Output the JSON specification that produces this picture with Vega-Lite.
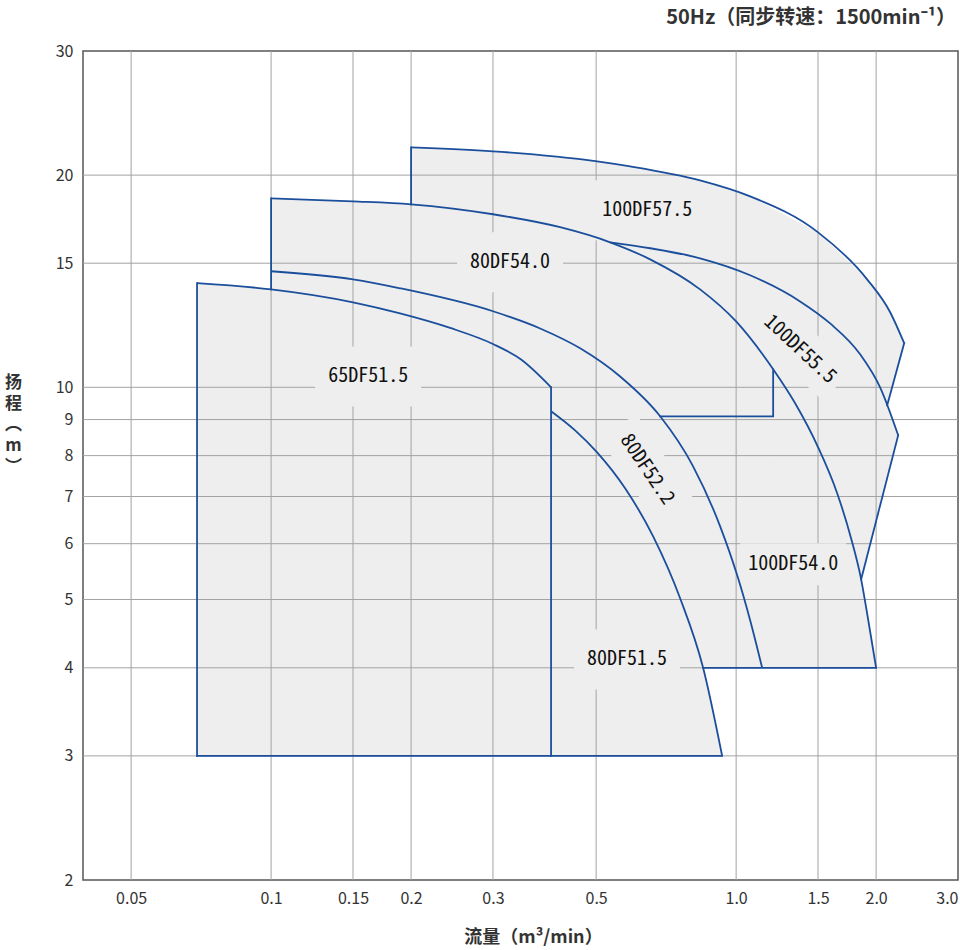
{
  "$schema": "https://vega.github.io/schema/vega-lite/v6.json",
  "width": 875,
  "height": 829,
  "autosize": "none",
  "padding": {"left": 83, "top": 51, "right": 2, "bottom": 70},
  "background": "white",
  "title": {"text": "50Hz（同步转速：1500min⁻¹）", "anchor": "end", "frame": "group", "fontSize": 20, "fontWeight": "bold", "font": "Noto Sans CJK SC", "color": "#333333", "offset": 15, "dx": -2},
  "config": {
    "view": {"stroke": "#555555", "strokeWidth": 1.5},
    "axis": {"grid": false, "ticks": false, "domain": false, "labelPadding": 10, "labelFontSize": 16, "labelFont": "Noto Sans CJK SC", "labelColor": "#333333", "labelOverlap": false, "titleFont": "Noto Sans CJK SC", "titleFontSize": 18, "titleFontWeight": "bold", "titleColor": "#333333"},
    "axisX": {"labelFlush": true},
    "axisY": {"labelFlush": false}
  },
  "datasets": {
    "fills": [
      {"shape": "A", "i": 0, "q": 0.0693, "h": 3},
      {"shape": "A", "i": 1, "q": 0.0693, "h": 14.05},
      {"shape": "A", "i": 2, "q": 0.1, "h": 13.77},
      {"shape": "A", "i": 3, "q": 0.15, "h": 13.2},
      {"shape": "A", "i": 4, "q": 0.1894, "h": 12.73},
      {"shape": "A", "i": 5, "q": 0.2427, "h": 12.14},
      {"shape": "A", "i": 6, "q": 0.3, "h": 11.52},
      {"shape": "A", "i": 7, "q": 0.3448, "h": 10.95},
      {"shape": "A", "i": 8, "q": 0.4, "h": 10.0},
      {"shape": "A", "i": 9, "q": 0.4, "h": 3},
      {"shape": "B", "i": 0, "q": 0.4, "h": 3},
      {"shape": "B", "i": 1, "q": 0.4, "h": 9.25},
      {"shape": "B", "i": 2, "q": 0.4505, "h": 8.689},
      {"shape": "B", "i": 3, "q": 0.5024, "h": 8.087},
      {"shape": "B", "i": 4, "q": 0.5771, "h": 7.191},
      {"shape": "B", "i": 5, "q": 0.6631, "h": 6.144},
      {"shape": "B", "i": 6, "q": 0.7578, "h": 5.02},
      {"shape": "B", "i": 7, "q": 0.8492, "h": 4.0},
      {"shape": "B", "i": 8, "q": 0.933, "h": 3},
      {"shape": "C", "i": 0, "q": 0.1, "h": 4},
      {"shape": "C", "i": 1, "q": 0.1, "h": 14.61},
      {"shape": "C", "i": 2, "q": 0.15, "h": 14.23},
      {"shape": "C", "i": 3, "q": 0.1894, "h": 13.82},
      {"shape": "C", "i": 4, "q": 0.3, "h": 12.82},
      {"shape": "C", "i": 5, "q": 0.3789, "h": 12.12},
      {"shape": "C", "i": 6, "q": 0.4619, "h": 11.36},
      {"shape": "C", "i": 7, "q": 0.5631, "h": 10.36},
      {"shape": "C", "i": 8, "q": 0.6865, "h": 9.097},
      {"shape": "C", "i": 9, "q": 0.8081, "h": 7.725},
      {"shape": "C", "i": 10, "q": 0.9239, "h": 6.35},
      {"shape": "C", "i": 11, "q": 1.01, "h": 5.358},
      {"shape": "C", "i": 12, "q": 1.0718, "h": 4.672},
      {"shape": "C", "i": 13, "q": 1.1375, "h": 4.0},
      {"shape": "E", "i": 0, "q": 0.1, "h": 4},
      {"shape": "E", "i": 1, "q": 0.1, "h": 18.54},
      {"shape": "E", "i": 2, "q": 0.15, "h": 18.36},
      {"shape": "E", "i": 3, "q": 0.2, "h": 18.18},
      {"shape": "E", "i": 4, "q": 0.3, "h": 17.6},
      {"shape": "E", "i": 5, "q": 0.4183, "h": 16.87},
      {"shape": "E", "i": 6, "q": 0.5359, "h": 16.06},
      {"shape": "E", "i": 7, "q": 0.6532, "h": 15.19},
      {"shape": "E", "i": 8, "q": 0.8366, "h": 13.77},
      {"shape": "E", "i": 9, "q": 1.0, "h": 12.4},
      {"shape": "E", "i": 10, "q": 1.2012, "h": 10.606},
      {"shape": "E", "i": 11, "q": 1.3393, "h": 9.491},
      {"shape": "E", "i": 12, "q": 1.5007, "h": 8.221},
      {"shape": "E", "i": 13, "q": 1.6491, "h": 7.075},
      {"shape": "E", "i": 14, "q": 1.7672, "h": 6.104},
      {"shape": "E", "i": 15, "q": 1.8571, "h": 5.341},
      {"shape": "E", "i": 16, "q": 1.9222, "h": 4.688},
      {"shape": "E", "i": 17, "q": 2.0, "h": 4.0},
      {"shape": "F", "i": 0, "q": 0.5359, "h": 16.06},
      {"shape": "F", "i": 1, "q": 0.6532, "h": 15.75},
      {"shape": "F", "i": 2, "q": 0.8366, "h": 15.24},
      {"shape": "F", "i": 3, "q": 1.0718, "h": 14.42},
      {"shape": "F", "i": 4, "q": 1.3725, "h": 13.24},
      {"shape": "F", "i": 5, "q": 1.593, "h": 12.32},
      {"shape": "F", "i": 6, "q": 1.8479, "h": 11.14},
      {"shape": "F", "i": 7, "q": 2.0398, "h": 10.0},
      {"shape": "F", "i": 8, "q": 2.2309, "h": 8.549},
      {"shape": "F", "i": 9, "q": 1.8571, "h": 5.341},
      {"shape": "G", "i": 0, "q": 0.2, "h": 18.18},
      {"shape": "G", "i": 1, "q": 0.2, "h": 21.9},
      {"shape": "G", "i": 2, "q": 0.3, "h": 21.62},
      {"shape": "G", "i": 3, "q": 0.5024, "h": 20.92},
      {"shape": "G", "i": 4, "q": 0.5916, "h": 20.58},
      {"shape": "G", "i": 5, "q": 0.8366, "h": 19.66},
      {"shape": "G", "i": 6, "q": 1.0718, "h": 18.66},
      {"shape": "G", "i": 7, "q": 1.5007, "h": 16.59},
      {"shape": "G", "i": 8, "q": 1.9127, "h": 14.23},
      {"shape": "G", "i": 9, "q": 2.1441, "h": 12.78},
      {"shape": "G", "i": 10, "q": 2.2982, "h": 11.55},
      {"shape": "G", "i": 11, "q": 2.1125, "h": 9.43}
    ],
    "curves": [
      {"curve": "65DF51.5", "q": 0.0693, "h": 14.05},
      {"curve": "65DF51.5", "q": 0.1, "h": 13.77},
      {"curve": "65DF51.5", "q": 0.15, "h": 13.2},
      {"curve": "65DF51.5", "q": 0.1894, "h": 12.73},
      {"curve": "65DF51.5", "q": 0.2427, "h": 12.14},
      {"curve": "65DF51.5", "q": 0.3, "h": 11.52},
      {"curve": "65DF51.5", "q": 0.3448, "h": 10.95},
      {"curve": "65DF51.5", "q": 0.4, "h": 10.0},
      {"curve": "80DF51.5", "q": 0.4, "h": 9.25},
      {"curve": "80DF51.5", "q": 0.4505, "h": 8.689},
      {"curve": "80DF51.5", "q": 0.5024, "h": 8.087},
      {"curve": "80DF51.5", "q": 0.5771, "h": 7.191},
      {"curve": "80DF51.5", "q": 0.6631, "h": 6.144},
      {"curve": "80DF51.5", "q": 0.7578, "h": 5.02},
      {"curve": "80DF51.5", "q": 0.8492, "h": 4.0},
      {"curve": "80DF51.5", "q": 0.933, "h": 3},
      {"curve": "80DF52.2", "q": 0.1, "h": 14.61},
      {"curve": "80DF52.2", "q": 0.15, "h": 14.23},
      {"curve": "80DF52.2", "q": 0.1894, "h": 13.82},
      {"curve": "80DF52.2", "q": 0.3, "h": 12.82},
      {"curve": "80DF52.2", "q": 0.3789, "h": 12.12},
      {"curve": "80DF52.2", "q": 0.4619, "h": 11.36},
      {"curve": "80DF52.2", "q": 0.5631, "h": 10.36},
      {"curve": "80DF52.2", "q": 0.6865, "h": 9.097},
      {"curve": "80DF52.2", "q": 0.8081, "h": 7.725},
      {"curve": "80DF52.2", "q": 0.9239, "h": 6.35},
      {"curve": "80DF52.2", "q": 1.01, "h": 5.358},
      {"curve": "80DF52.2", "q": 1.0718, "h": 4.672},
      {"curve": "80DF52.2", "q": 1.1375, "h": 4.0},
      {"curve": "100DF54.0", "q": 0.1, "h": 18.54},
      {"curve": "100DF54.0", "q": 0.15, "h": 18.36},
      {"curve": "100DF54.0", "q": 0.2, "h": 18.18},
      {"curve": "100DF54.0", "q": 0.3, "h": 17.6},
      {"curve": "100DF54.0", "q": 0.4183, "h": 16.87},
      {"curve": "100DF54.0", "q": 0.5359, "h": 16.06},
      {"curve": "100DF54.0", "q": 0.6532, "h": 15.19},
      {"curve": "100DF54.0", "q": 0.8366, "h": 13.77},
      {"curve": "100DF54.0", "q": 1.0, "h": 12.4},
      {"curve": "100DF54.0", "q": 1.2012, "h": 10.606},
      {"curve": "100DF54.0", "q": 1.3393, "h": 9.491},
      {"curve": "100DF54.0", "q": 1.5007, "h": 8.221},
      {"curve": "100DF54.0", "q": 1.6491, "h": 7.075},
      {"curve": "100DF54.0", "q": 1.7672, "h": 6.104},
      {"curve": "100DF54.0", "q": 1.8571, "h": 5.341},
      {"curve": "100DF54.0", "q": 1.9222, "h": 4.688},
      {"curve": "100DF54.0", "q": 2.0, "h": 4.0},
      {"curve": "100DF55.5", "q": 0.5359, "h": 16.06},
      {"curve": "100DF55.5", "q": 0.6532, "h": 15.75},
      {"curve": "100DF55.5", "q": 0.8366, "h": 15.24},
      {"curve": "100DF55.5", "q": 1.0718, "h": 14.42},
      {"curve": "100DF55.5", "q": 1.3725, "h": 13.24},
      {"curve": "100DF55.5", "q": 1.593, "h": 12.32},
      {"curve": "100DF55.5", "q": 1.8479, "h": 11.14},
      {"curve": "100DF55.5", "q": 2.0398, "h": 10.0},
      {"curve": "100DF55.5", "q": 2.2309, "h": 8.549},
      {"curve": "100DF57.5", "q": 0.2, "h": 21.9},
      {"curve": "100DF57.5", "q": 0.3, "h": 21.62},
      {"curve": "100DF57.5", "q": 0.5024, "h": 20.92},
      {"curve": "100DF57.5", "q": 0.5916, "h": 20.58},
      {"curve": "100DF57.5", "q": 0.8366, "h": 19.66},
      {"curve": "100DF57.5", "q": 1.0718, "h": 18.66},
      {"curve": "100DF57.5", "q": 1.5007, "h": 16.59},
      {"curve": "100DF57.5", "q": 1.9127, "h": 14.23},
      {"curve": "100DF57.5", "q": 2.1441, "h": 12.78},
      {"curve": "100DF57.5", "q": 2.2982, "h": 11.55}
    ],
    "edges": [
      {"edge": "a-left", "i": 0, "q": 0.0693, "h": 3},
      {"edge": "a-left", "i": 1, "q": 0.0693, "h": 14.05},
      {"edge": "h3", "i": 0, "q": 0.0693, "h": 3},
      {"edge": "h3", "i": 1, "q": 0.933, "h": 3},
      {"edge": "q04", "i": 0, "q": 0.4, "h": 10.0},
      {"edge": "q04", "i": 1, "q": 0.4, "h": 3},
      {"edge": "q01", "i": 0, "q": 0.1, "h": 18.54},
      {"edge": "q01", "i": 1, "q": 0.1, "h": 13.77},
      {"edge": "h4", "i": 0, "q": 0.8492, "h": 4},
      {"edge": "h4", "i": 1, "q": 2.0, "h": 4},
      {"edge": "d-corner", "i": 0, "q": 1.2012, "h": 10.606},
      {"edge": "d-corner", "i": 1, "q": 1.2012, "h": 9.097},
      {"edge": "d-corner", "i": 2, "q": 0.6865, "h": 9.097},
      {"edge": "g-left", "i": 0, "q": 0.2, "h": 18.18},
      {"edge": "g-left", "i": 1, "q": 0.2, "h": 21.9},
      {"edge": "g-diag", "i": 0, "q": 2.2982, "h": 11.55},
      {"edge": "g-diag", "i": 1, "q": 2.1125, "h": 9.43},
      {"edge": "f-diag", "i": 0, "q": 2.2309, "h": 8.549},
      {"edge": "f-diag", "i": 1, "q": 1.8571, "h": 5.341}
    ],
    "gridq": [{"q": 0.05}, {"q": 0.1}, {"q": 0.15}, {"q": 0.2}, {"q": 0.3}, {"q": 0.5}, {"q": 1.0}, {"q": 1.5}, {"q": 2.0}],
    "gridh": [{"h": 3}, {"h": 4}, {"h": 5}, {"h": 6}, {"h": 7}, {"h": 8}, {"h": 9}, {"h": 10}, {"h": 15}, {"h": 20}],
    "labels": [
      {"text": "100DF57.5", "q": 0.6437, "h": 17.83},
      {"text": "80DF54.0", "q": 0.3265, "h": 15.04},
      {"text": "65DF51.5", "q": 0.1617, "h": 10.36},
      {"text": "100DF54.0", "q": 1.3261, "h": 5.609},
      {"text": "80DF51.5", "q": 0.5829, "h": 4.111},
      {"text": "80DF52.2", "q": 0.6437, "h": 7.648},
      {"text": "100DF55.5", "q": 1.3725, "h": 11.32}
    ]
  },
  "layer": [
    {
      "data": {"name": "fills"},
      "mark": {"type": "line", "filled": true, "fill": "#eeeeee", "strokeWidth": 0, "interpolate": "linear-closed"},
      "encoding": {
        "x": {"field": "q", "type": "quantitative", "scale": {"type": "log", "domain": [0.0394, 3], "nice": false, "zero": false},
          "axis": {"values": [0.05, 0.1, 0.15, 0.2, 0.3, 0.5, 1, 1.5, 2, 3], "grid": false,
            "labelExpr": "datum.value < 1 ? format(datum.value, '~g') : format(datum.value, '.1f')",
            "title": "流量（m³/min）", "titleX": 450, "titleY": 57, "titleBaseline": "middle", "titleAlign": "center"}},
        "y": {"field": "h", "type": "quantitative", "scale": {"type": "log", "domain": [2, 30], "nice": false, "zero": false},
          "axis": {"values": [2, 3, 4, 5, 6, 7, 8, 9, 10, 15, 20, 30], "grid": false,
            "title": ["扬", "程", "︵", "m", "︶"], "titleFontSize": 17, "titleAngle": 0, "titleX": -70, "titleY": 331, "titleBaseline": "middle", "titleAlign": "center", "titleLineHeight": 21}},
        "detail": {"field": "shape"},
        "order": {"field": "i", "type": "quantitative"}
      }
    },
    {
      "data": {"name": "gridq"},
      "mark": {"type": "rule", "color": "#a3a3a3", "strokeWidth": 1},
      "encoding": {
        "x": {"field": "q", "type": "quantitative", "scale": {"type": "log", "domain": [0.0394, 3], "nice": false, "zero": false}}
      }
    },
    {
      "data": {"name": "gridh"},
      "mark": {"type": "rule", "color": "#a3a3a3", "strokeWidth": 1},
      "encoding": {
        "y": {"field": "h", "type": "quantitative", "scale": {"type": "log", "domain": [2, 30], "nice": false, "zero": false}}
      }
    },
    {
      "data": {"name": "labels"},
      "transform": [{"filter": "datum.text == '100DF57.5' || datum.text == '80DF54.0' || datum.text == '65DF51.5' || datum.text == '80DF51.5'"}],
      "mark": {"type": "point", "shape": "M-1.767,-1L1.767,-1L1.767,1L-1.767,1Z", "size": 3600, "filled": true, "fill": "#eeeeee", "strokeWidth": 0, "opacity": 1},
      "encoding": {
        "x": {"field": "q", "type": "quantitative", "scale": {"type": "log", "domain": [0.0394, 3], "nice": false, "zero": false}},
        "y": {"field": "h", "type": "quantitative", "scale": {"type": "log", "domain": [2, 30], "nice": false, "zero": false}}
      }
    },
    {
      "data": {"name": "labels"},
      "transform": [{"filter": "datum.text == '100DF54.0'"}],
      "mark": {"type": "point", "shape": "M-2.524,-1L2.524,-1L2.524,1L-2.524,1Z", "size": 1764, "filled": true, "fill": "#eeeeee", "strokeWidth": 0, "opacity": 1},
      "encoding": {
        "x": {"field": "q", "type": "quantitative", "scale": {"type": "log", "domain": [0.0394, 3], "nice": false, "zero": false}},
        "y": {"field": "h", "type": "quantitative", "scale": {"type": "log", "domain": [2, 30], "nice": false, "zero": false}}
      }
    },
    {
      "data": {"name": "labels"},
      "transform": [{"filter": "datum.text == '80DF52.2'"}],
      "mark": {"type": "point", "shape": "M-2.364,-1L2.364,-1L2.364,1L-2.364,1Z", "size": 1936, "angle": 56, "filled": true, "fill": "#eeeeee", "strokeWidth": 0, "opacity": 1},
      "encoding": {
        "x": {"field": "q", "type": "quantitative", "scale": {"type": "log", "domain": [0.0394, 3], "nice": false, "zero": false}},
        "y": {"field": "h", "type": "quantitative", "scale": {"type": "log", "domain": [2, 30], "nice": false, "zero": false}}
      }
    },
    {
      "data": {"name": "labels"},
      "transform": [{"filter": "datum.text == '100DF55.5'"}],
      "mark": {"type": "point", "shape": "M-2.364,-1L2.364,-1L2.364,1L-2.364,1Z", "size": 1936, "angle": 43, "filled": true, "fill": "#eeeeee", "strokeWidth": 0, "opacity": 1},
      "encoding": {
        "x": {"field": "q", "type": "quantitative", "scale": {"type": "log", "domain": [0.0394, 3], "nice": false, "zero": false}},
        "y": {"field": "h", "type": "quantitative", "scale": {"type": "log", "domain": [2, 30], "nice": false, "zero": false}}
      }
    },
    {
      "data": {"name": "curves"},
      "mark": {"type": "line", "color": "#1b4f9c", "strokeWidth": 1.8, "interpolate": "monotone"},
      "encoding": {
        "x": {"field": "q", "type": "quantitative", "scale": {"type": "log", "domain": [0.0394, 3], "nice": false, "zero": false}},
        "y": {"field": "h", "type": "quantitative", "scale": {"type": "log", "domain": [2, 30], "nice": false, "zero": false}},
        "detail": {"field": "curve"}
      }
    },
    {
      "data": {"name": "edges"},
      "mark": {"type": "line", "color": "#1b4f9c", "strokeWidth": 1.8, "strokeCap": "square", "interpolate": "linear"},
      "encoding": {
        "x": {"field": "q", "type": "quantitative", "scale": {"type": "log", "domain": [0.0394, 3], "nice": false, "zero": false}},
        "y": {"field": "h", "type": "quantitative", "scale": {"type": "log", "domain": [2, 30], "nice": false, "zero": false}},
        "detail": {"field": "edge"},
        "order": {"field": "i", "type": "quantitative"}
      }
    },
    {
      "data": {"name": "labels"},
      "transform": [{"filter": "datum.text != '80DF52.2' && datum.text != '100DF55.5'"}],
      "mark": {"type": "text", "font": "Noto Sans Mono CJK SC, DejaVu Sans Mono", "fontSize": 20, "color": "#111111", "align": "center", "baseline": "middle"},
      "encoding": {
        "x": {"field": "q", "type": "quantitative", "scale": {"type": "log", "domain": [0.0394, 3], "nice": false, "zero": false}},
        "y": {"field": "h", "type": "quantitative", "scale": {"type": "log", "domain": [2, 30], "nice": false, "zero": false}},
        "text": {"field": "text"}
      }
    },
    {
      "data": {"name": "labels"},
      "transform": [{"filter": "datum.text == '80DF52.2'"}],
      "mark": {"type": "text", "font": "Noto Sans Mono CJK SC, DejaVu Sans Mono", "fontSize": 20, "color": "#111111", "align": "center", "baseline": "middle", "angle": 56},
      "encoding": {
        "x": {"field": "q", "type": "quantitative", "scale": {"type": "log", "domain": [0.0394, 3], "nice": false, "zero": false}},
        "y": {"field": "h", "type": "quantitative", "scale": {"type": "log", "domain": [2, 30], "nice": false, "zero": false}},
        "text": {"field": "text"}
      }
    },
    {
      "data": {"name": "labels"},
      "transform": [{"filter": "datum.text == '100DF55.5'"}],
      "mark": {"type": "text", "font": "Noto Sans Mono CJK SC, DejaVu Sans Mono", "fontSize": 20, "color": "#111111", "align": "center", "baseline": "middle", "angle": 43},
      "encoding": {
        "x": {"field": "q", "type": "quantitative", "scale": {"type": "log", "domain": [0.0394, 3], "nice": false, "zero": false}},
        "y": {"field": "h", "type": "quantitative", "scale": {"type": "log", "domain": [2, 30], "nice": false, "zero": false}},
        "text": {"field": "text"}
      }
    }
  ]
}
